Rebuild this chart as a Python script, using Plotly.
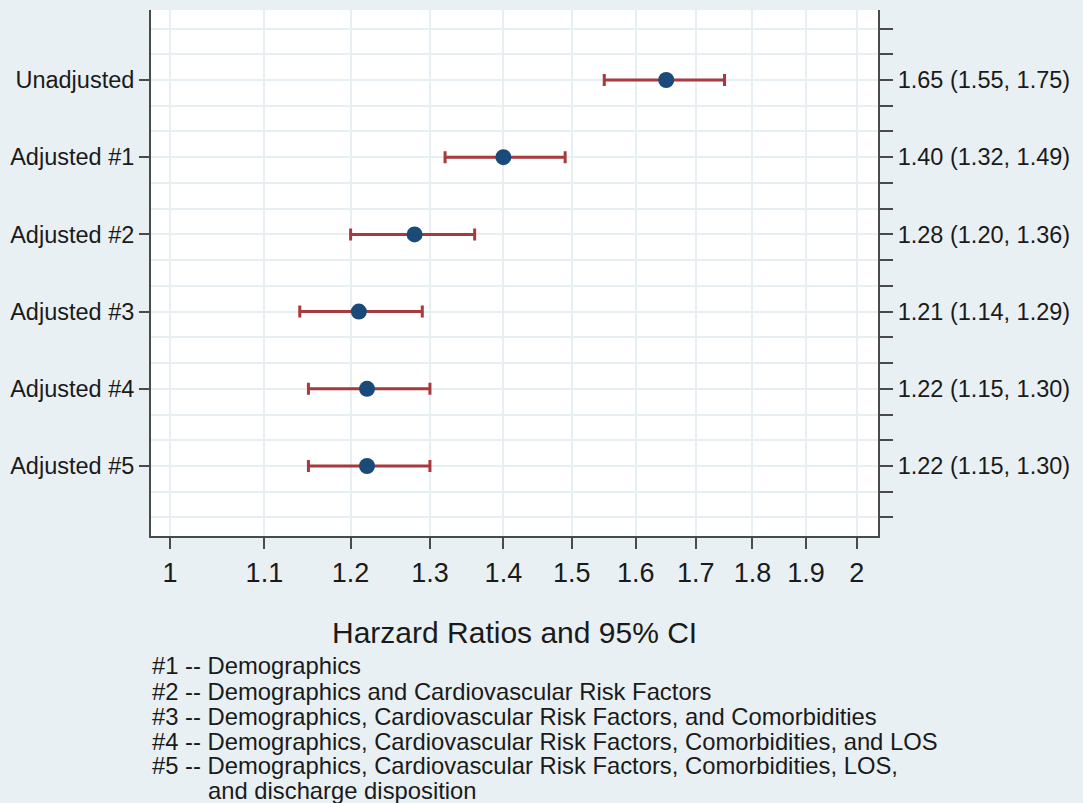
import plotly.graph_objects as go

# ---- data ----
models = ["Unadjusted", "Adjusted #1", "Adjusted #2", "Adjusted #3", "Adjusted #4", "Adjusted #5"]
hr = [1.65, 1.40, 1.28, 1.21, 1.22, 1.22]
ci_low = [1.55, 1.32, 1.20, 1.14, 1.15, 1.15]
ci_high = [1.75, 1.49, 1.36, 1.29, 1.30, 1.30]
x_ticks = [1, 1.1, 1.2, 1.3, 1.4, 1.5, 1.6, 1.7, 1.8, 1.9, 2]
x_tick_labels = ["1", "1.1", "1.2", "1.3", "1.4", "1.5", "1.6", "1.7", "1.8", "1.9", "2"]
x_title = "Harzard Ratios and 95% CI"
footnotes = [
    "#1 -- Demographics",
    "#2 -- Demographics and Cardiovascular Risk Factors",
    "#3 -- Demographics, Cardiovascular Risk Factors, and Comorbidities",
    "#4 -- Demographics, Cardiovascular Risk Factors, Comorbidities, and LOS",
    "#5 -- Demographics, Cardiovascular Risk Factors, Comorbidities, LOS,",
]
footnote_cont = "and discharge disposition"

# ---- styling ----
BG = "#e9f0f3"
GRID = "#e8eff2"
AXIS = "#4a4a4a"
NAVY = "#1a4a7a"
RED = "#a8393d"
FONT = "Liberation Sans, Arial, sans-serif"

n = len(models)
ypos = [n - i for i in range(n)]  # Unadjusted at top
right_labels = [f"{h:.2f} ({l:.2f}, {u:.2f})" for h, l, u in zip(hr, ci_low, ci_high)]

fig = go.Figure()
fig.add_trace(go.Scatter(
    x=hr, y=ypos, mode="markers",
    marker=dict(color=NAVY, size=16, line=dict(width=0)),
    error_x=dict(type="data", symmetric=False,
                 array=[u - h for u, h in zip(ci_high, hr)],
                 arrayminus=[h - l for h, l in zip(hr, ci_low)],
                 color=RED, thickness=3, width=6),
    showlegend=False, hoverinfo="skip",
))
# invisible trace for the right axis
fig.add_trace(go.Scatter(x=hr, y=ypos, yaxis="y2", mode="markers",
                         marker=dict(opacity=0), showlegend=False, hoverinfo="skip"))

yr = [0.093, n + 0.907]

fig.update_layout(
    width=1083, height=803,
    paper_bgcolor=BG, plot_bgcolor="white",
    margin=dict(l=151, r=205, t=10, b=267),
    font=dict(family=FONT, color="#1a1a1a"),
    xaxis=dict(
        type="log", range=[-0.0083, 0.3103],
        tickvals=x_ticks, ticktext=x_tick_labels,
        ticks="outside", ticklen=11, tickwidth=2, tickcolor=AXIS,
        tickfont=dict(size=27), ticklabelstandoff=1,
        showgrid=True, gridcolor=GRID, gridwidth=2,
        showline=True, linecolor=AXIS, linewidth=2,
        zeroline=False,
    ),
    yaxis=dict(
        range=yr, tickvals=ypos, ticktext=models,
        ticks="outside", ticklen=10, tickwidth=2, tickcolor=AXIS,
        tickfont=dict(size=23.5), ticklabelstandoff=0,
        showgrid=True, gridcolor=GRID, gridwidth=2,
        minor=dict(tick0=0, dtick=1 / 3, showgrid=True, gridcolor=GRID, gridwidth=2, ticks=""),
        showline=True, linecolor=AXIS, linewidth=2,
        zeroline=False,
    ),
    yaxis2=dict(
        range=yr, overlaying="y", side="right",
        tickvals=ypos, ticktext=right_labels,
        ticks="outside", ticklen=13, tickwidth=2, tickcolor=AXIS,
        tickfont=dict(size=23.5), ticklabelstandoff=0,
        minor=dict(tick0=0, dtick=1 / 3, ticks="outside", ticklen=13, tickwidth=2,
                   tickcolor=AXIS, showgrid=False),
        showgrid=False, showline=True, linecolor=AXIS, linewidth=2,
        zeroline=False,
    ),
)

plot_w = 1083 - 151 - 205
plot_h = 803 - 10 - 267


def px_to_paper_x(px):
    return (px - 151) / plot_w


def px_to_paper_y(py):
    return (803 - 267 - py) / plot_h


fig.add_annotation(text=x_title, xref="paper", yref="paper",
                   x=0.5, y=px_to_paper_y(632), xanchor="center", yanchor="middle",
                   showarrow=False, font=dict(size=30))

foot_y = [665, 691, 716, 741, 765]
for txt, py in zip(footnotes, foot_y):
    fig.add_annotation(text=txt, xref="paper", yref="paper",
                       x=px_to_paper_x(150), y=px_to_paper_y(py),
                       xanchor="left", yanchor="middle", showarrow=False,
                       font=dict(size=23.8))
fig.add_annotation(text=footnote_cont, xref="paper", yref="paper",
                   x=px_to_paper_x(206), y=px_to_paper_y(790),
                   xanchor="left", yanchor="middle", showarrow=False,
                   font=dict(size=23.8))

fig.write_html("out.html", config={"displayModeBar": False},
               post_script="document.body.style.margin='0';document.body.style.overflow='hidden';")
